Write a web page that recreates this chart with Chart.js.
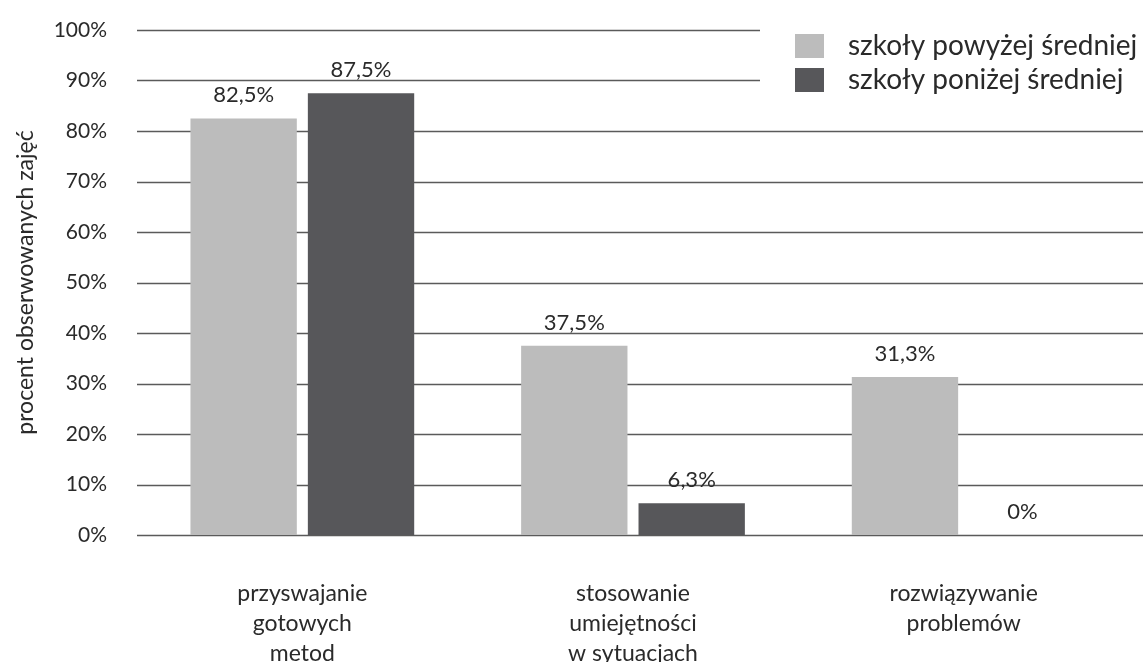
<!DOCTYPE html>
<html>
<head>
<meta charset="utf-8">
<script src="https://cdn.jsdelivr.net/npm/chart.js@4/dist/chart.umd.min.js"></script>
<style>
  html, body { margin: 0; padding: 0; background: #ffffff; }
  #wrap { width: 1143px; height: 662px; }
</style>
</head>
<body>
<div id="wrap"><canvas id="c" width="1143" height="662"></canvas></div>
<script>
// Activity types observed during lessons (multi-line axis labels)
const categories = [
  ['przyswajanie', 'gotowych', 'metod'],
  ['stosowanie', 'umiejętności', 'w sytuacjach'],
  ['rozwiązywanie', 'problemów']
];
const seriesNames = ['szkoły powyżej średniej', 'szkoły poniżej średniej'];
const aboveAverage = [82.5, 37.5, 31.3];
const belowAverage = [87.5, 6.3, 0];
const yTickValues = [0, 10, 20, 30, 40, 50, 60, 70, 80, 90, 100];
const yAxisTitle = 'procent obserwowanych zajęć';

const FONT = 'Lato, "Open Sans", sans-serif';
const TEXT = '#2a2a2a';
const LIGHT = '#bcbcbc';
const DARK = '#57575a';

const pct = v => (v === 0 ? '0%' : v.toFixed(1).replace('.', ',') + '%');

// Horizontal gridlines running to the right edge of the canvas
const gridPlugin = {
  id: 'fullGrid',
  beforeDatasetsDraw(chart) {
    const { ctx, chartArea, scales: { y } } = chart;
    ctx.save();
    ctx.strokeStyle = '#5a5a5a';
    ctx.lineWidth = 1.3;
    yTickValues.forEach(v => {
      const py = Math.round(y.getPixelForValue(v)) + 0.5;
      ctx.beginPath();
      ctx.moveTo(chartArea.left, py);
      ctx.lineTo(chart.width, py);
      ctx.stroke();
    });
    ctx.restore();
  }
};

// Legend box in the upper right corner, on a white background
const legendPlugin = {
  id: 'cornerLegend',
  beforeDatasetsDraw(chart) {
    const { ctx } = chart;
    ctx.save();
    ctx.fillStyle = '#ffffff';
    ctx.fillRect(760, 12, chart.width - 760, 100);
    ctx.font = '28px ' + FONT;
    ctx.textBaseline = 'middle';
    ctx.textAlign = 'left';
    chart.data.datasets.forEach((ds, i) => {
      const cy = 46 + i * 34;
      ctx.fillStyle = ds.backgroundColor;
      ctx.fillRect(795, cy - 12, 29, 24);
      ctx.fillStyle = TEXT;
      ctx.fillText(ds.label, 848, cy);
    });
    ctx.restore();
  }
};

// Value labels above each bar
const valueLabels = {
  id: 'valueLabels',
  afterDatasetsDraw(chart) {
    const { ctx } = chart;
    ctx.save();
    ctx.font = '22px ' + FONT;
    ctx.fillStyle = TEXT;
    ctx.textAlign = 'center';
    ctx.textBaseline = 'middle';
    chart.data.datasets.forEach((ds, di) => {
      chart.getDatasetMeta(di).data.forEach((bar, i) => {
        ctx.fillText(pct(ds.data[i]), bar.x, bar.y - 23);
      });
    });
    ctx.restore();
  }
};

new Chart(document.getElementById('c'), {
  type: 'bar',
  data: {
    labels: categories,
    datasets: [
      { label: seriesNames[0], data: aboveAverage, backgroundColor: LIGHT },
      { label: seriesNames[1], data: belowAverage, backgroundColor: DARK }
    ]
  },
  options: {
    responsive: false,
    animation: false,
    devicePixelRatio: 1,
    layout: { padding: { left: 0, right: 14, top: 30, bottom: 0 } },
    datasets: { bar: { categoryPercentage: 0.71, barPercentage: 0.906 } },
    plugins: { legend: { display: false }, tooltip: { enabled: false } },
    scales: {
      x: {
        grid: { display: false, drawTicks: false },
        border: { display: false },
        ticks: {
          color: TEXT,
          font: { family: FONT, size: 23, lineHeight: 30 / 23 },
          padding: 44,
          maxRotation: 0,
          minRotation: 0,
          autoSkip: false
        },
        afterFit(scale) { scale.height = 127; }
      },
      y: {
        min: 0,
        max: 100,
        afterBuildTicks(scale) { scale.ticks = yTickValues.map(v => ({ value: v })); },
        grid: { display: false, drawTicks: false },
        border: { display: false },
        ticks: {
          color: TEXT,
          font: { family: FONT, size: 21 },
          padding: 30,
          callback: v => v + '%'
        },
        title: {
          display: true,
          text: yAxisTitle,
          color: TEXT,
          font: { family: FONT, size: 23, lineHeight: 1.2 },
          padding: { top: 12, bottom: 0 }
        },
        afterFit(scale) {
          scale.width = 137;
          scale.paddingTop = 0;
          scale.paddingBottom = 0;
        }
      }
    }
  },
  plugins: [gridPlugin, legendPlugin, valueLabels]
});
</script>
</body>
</html>
